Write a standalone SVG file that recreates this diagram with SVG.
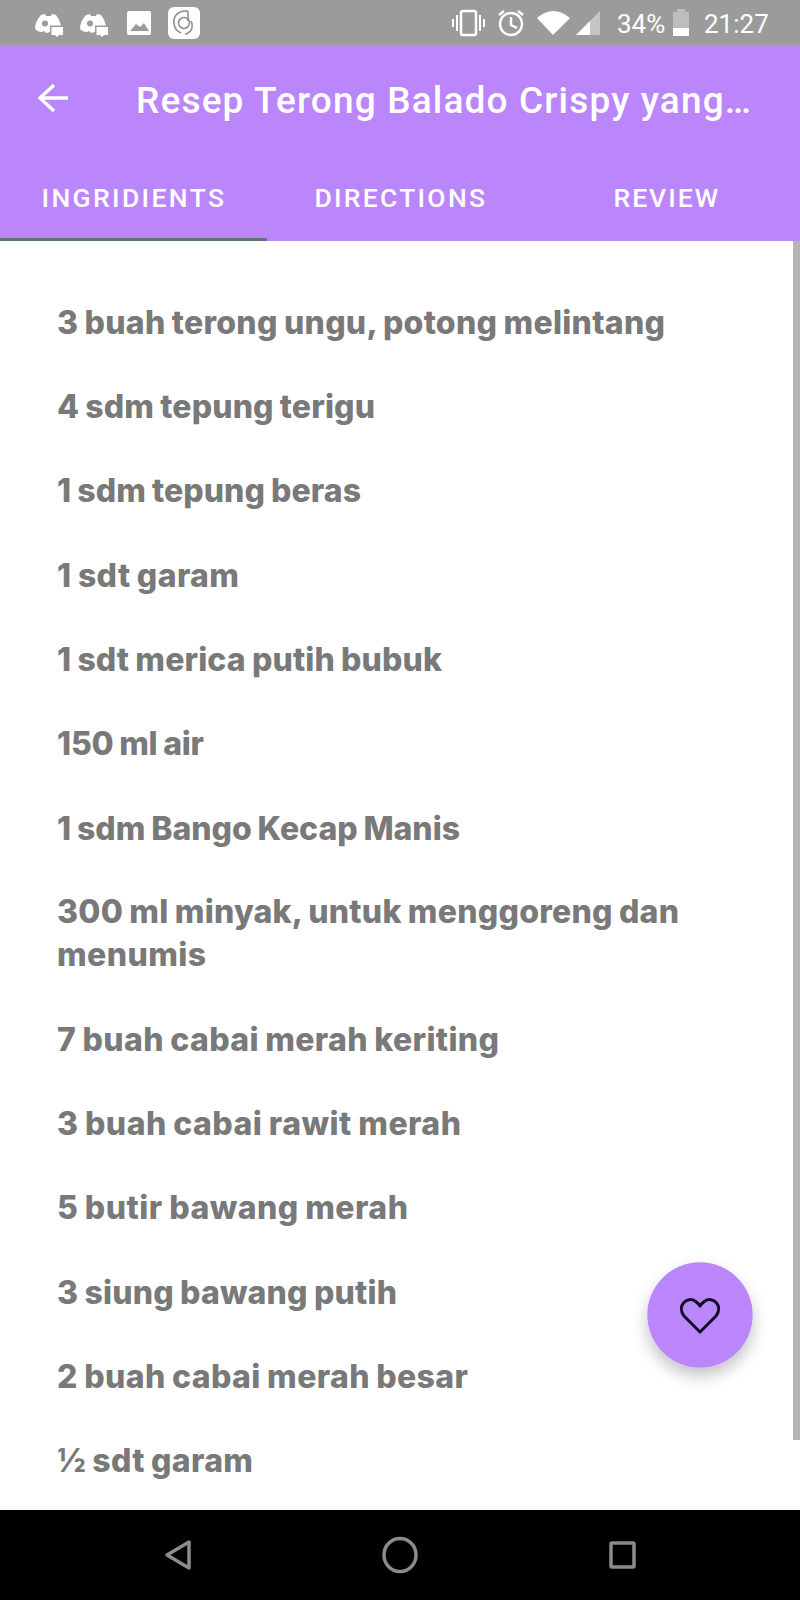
<svg xmlns="http://www.w3.org/2000/svg" width="800" height="1600" viewBox="0 0 800 1600">
<style>
.st{font-family:Roboto,"Liberation Sans",sans-serif;font-size:26px;fill:#fff}
.tb{font-family:Roboto,"Liberation Sans",sans-serif;font-size:26.500px;font-weight:500;fill:#fff;letter-spacing:1.500px}
.i{font-family:Inter,"Liberation Sans",sans-serif;font-size:32px;font-weight:800;fill:#797979;word-spacing:-1px}
.nv{fill:none;stroke:#8c8c8c;stroke-width:3.500;stroke-linejoin:round}
</style>
<defs>
<filter id="sh" x="-40%" y="-40%" width="180%" height="190%"><feDropShadow dx="0" dy="8" stdDeviation="8" flood-color="#000" flood-opacity=".24"/></filter>
<g id="dc">
<path fill="#fff" d="M41 15L45 14L46 16H51L52 14L56 15C59 19 61 23 61 28H50V32L46 33L44 31L42 32C39 32 37 31 35 29C35 24 37 19 41 15Z"/>
<circle cx="45" cy="23.500" r="3" fill="#9a9c9b"/>
<rect x="50" y="25.500" width="14" height="11" fill="#9a9c9b"/>
<path fill="#fff" d="M51.500 27H63V35H59L57 37L55 35H51.500Z"/>
</g>
</defs>
<rect id="bg" width="800" height="1600" fill="#fff"/>
<g id="status-bar">
<rect width="800" height="45" fill="#9a9c9b"/>
<use href="#dc"/><use href="#dc" x="45"/>
<g id="pic"><rect x="127" y="11" width="24" height="24" rx="2" fill="#fff"/><path d="M130 31L136 24L140 27L144 23L149 31Z" fill="#9a9c9b"/></g>
<g id="tile"><rect x="168" y="7" width="32" height="32" rx="6" fill="#fff"/><g fill="none" stroke="#8a8a8a" stroke-width="1.500"><path d="M188 11C177 10 173 17 174 24C175 29 178 32 181 33"/><path d="M188 11V21"/><circle cx="184" cy="23" r="5.500"/><path d="M191 21C194 27 191 33 185 34"/></g></g>
<g id="vibrate" fill="none" stroke="#fff" stroke-width="2"><rect x="461" y="11" width="15" height="24" rx="2" stroke-width="2.500"/><path d="M457 15V31M453 19V27M480 15V31M484 19V27"/></g>
<g id="alarm" fill="none" stroke="#fff" stroke-width="2.400"><circle cx="511" cy="24" r="11"/><path d="M511 17V25L517 28M499 15L504 11M523 15L518 11"/></g>
<path id="wifi" d="M537 18Q553 4 570 18L553 35Z" fill="#fff"/>
<path id="signal-bg" d="M576 35L600 11V35Z" fill="#c4c4c4"/><path id="signal" d="M576 35L590 21V35Z" fill="#fff"/>
<text class="st" x="617" y="33">34%</text>
<g id="battery"><rect x="677" y="9" width="8" height="3" fill="#bdbdbd"/><rect x="673" y="12" width="16" height="24" fill="#bdbdbd"/><rect x="673" y="28" width="16" height="8" fill="#fff"/></g>
<text class="st" x="704" y="33">21:27</text>
</g>
<g id="app-bar">
<rect y="45" width="800" height="196" fill="#bb86fc"/>
<path id="back" d="M68 98H41M54 85L40 98L54 111" fill="none" stroke="#fff" stroke-width="3.400"/>
<text id="title" x="136" y="112.500" font-family="Roboto,'Liberation Sans',sans-serif" font-size="37px" font-weight="500" fill="#fff" textLength="615">Resep Terong Balado Crispy yang…</text>
<text class="tb" x="41.500" y="207" textLength="184">INGRIDIENTS</text>
<text class="tb" x="314.500" y="207" textLength="172">DIRECTIONS</text>
<text class="tb" x="613.500" y="207" textLength="106">REVIEW</text>
<rect id="tab-indicator" y="238" width="267" height="3" fill="#5f7380"/>
</g>
<g id="ingredients">
<text class="i" x="57" y="334" textLength="608">3 buah terong ungu, potong melintang</text>
<text class="i" x="57" y="418" textLength="318">4 sdm tepung terigu</text>
<text class="i" x="57" y="502" textLength="304">1 sdm tepung beras</text>
<text class="i" x="57" y="587" textLength="182">1 sdt garam</text>
<text class="i" x="57" y="671" textLength="385">1 sdt merica putih bubuk</text>
<text class="i" x="57" y="755" textLength="147">150 ml air</text>
<text class="i" x="57" y="840" textLength="403">1 sdm Bango Kecap Manis</text>
<text class="i" x="57" y="923" textLength="622">300 ml minyak, untuk menggoreng dan</text>
<text class="i" x="57" y="966" textLength="149">menumis</text>
<text class="i" x="57" y="1051" textLength="442">7 buah cabai merah keriting</text>
<text class="i" x="57" y="1135" textLength="404">3 buah cabai rawit merah</text>
<text class="i" x="57" y="1219" textLength="351">5 butir bawang merah</text>
<text class="i" x="57" y="1304" textLength="340">3 siung bawang putih</text>
<text class="i" x="57" y="1388" textLength="411">2 buah cabai merah besar</text>
<text class="i" x="57" y="1472" textLength="196">½ sdt garam</text>
</g>
<rect id="scrollbar" x="793" y="241" width="7" height="1199" fill="#b5b5b5"/>
<g id="fab">
<circle cx="700" cy="1315" r="52.700" fill="#bb86fc" filter="url(#sh)"/>
<path d="M700 1332L684 1316C676 1305 688 1296 695 1301Q699 1304 700 1306Q701 1304 705 1301C712 1296 724 1305 716 1316Z" fill="none" stroke="#150a26" stroke-width="3" stroke-linejoin="round"/>
</g>
<g id="nav-bar">
<rect y="1510" width="800" height="90" fill="#000"/>
<path class="nv" d="M167 1555L189 1542V1568Z"/>
<ellipse class="nv" cx="400" cy="1555" rx="16" ry="16.500"/>
<rect class="nv" x="611" y="1543" width="23" height="24" rx="1"/>
</g>
</svg>
